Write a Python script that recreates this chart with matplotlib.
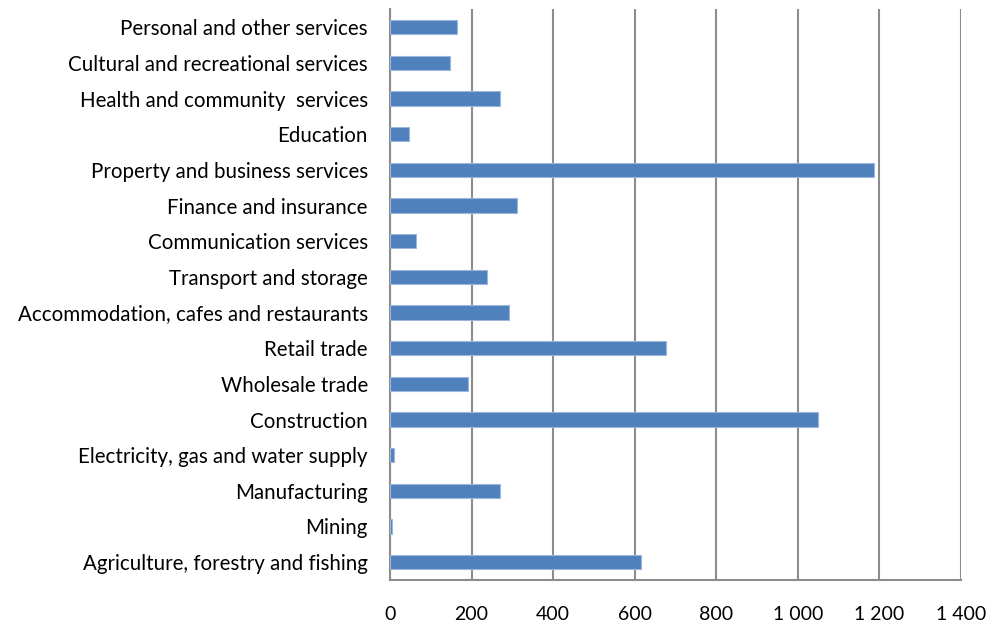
import matplotlib
matplotlib.use("Agg")
import matplotlib.pyplot as plt
from matplotlib.ticker import FuncFormatter

# industries, listed bottom to top
industries = [
    "Agriculture, forestry and fishing",
    "Mining",
    "Manufacturing",
    "Electricity, gas and water supply",
    "Construction",
    "Wholesale trade",
    "Retail trade",
    "Accommodation, cafes and restaurants",
    "Transport and storage",
    "Communication services",
    "Finance and insurance",
    "Property and business services",
    "Education",
    "Health and community  services",
    "Cultural and recreational services",
    "Personal and other services",
]
values = [615, 5, 270, 10, 1050, 192, 677, 292, 237, 63, 312, 1186, 47, 270, 146, 163]
x_ticks = [0, 200, 400, 600, 800, 1000, 1200, 1400]

plt.rcParams['font.family'] = ['Lato', 'DejaVu Sans']

fig = plt.figure(figsize=(9.97, 6.30), dpi=100)
ax = fig.add_axes([0.3912, 0.0794, 0.5727, 0.9056])

pos = range(len(industries))
ax.barh(pos, values, height=0.4, color="#4F81BD", edgecolor="#9DB7DB", linewidth=0.8, zorder=3)

ax.set_xlim(0, 1400)
ax.set_ylim(-0.5, len(industries) - 0.5)
ax.set_yticks(list(pos))
ax.set_yticklabels(industries)
ax.set_xticks(x_ticks)
ax.xaxis.set_major_formatter(FuncFormatter(lambda v, p: f"{int(v):,}".replace(",", " ")))

ax.grid(axis="x", color="#8C8C8C", linewidth=1.5, zorder=0)
for s in ["top", "right"]:
    ax.spines[s].set_visible(False)
for s in ["left", "bottom"]:
    ax.spines[s].set_color("#8C8C8C")
    ax.spines[s].set_linewidth(1.5)
ax.tick_params(axis="y", length=0, pad=16, labelsize=14.8)
ax.tick_params(axis="x", length=0, pad=19, labelsize=14)

fig.savefig("out.png", dpi=100)
